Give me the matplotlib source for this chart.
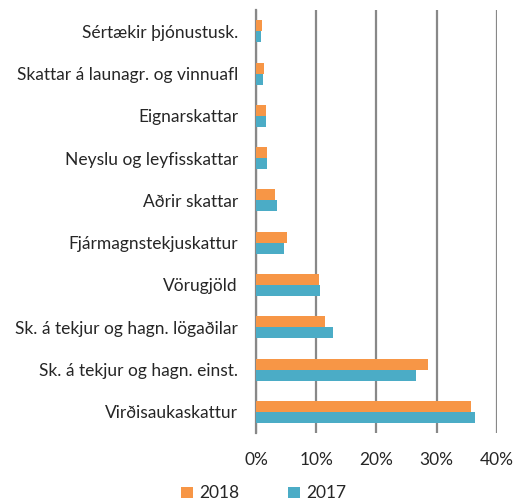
import numpy as np
import matplotlib.pyplot as plt
from matplotlib.ticker import PercentFormatter

# Gögn (lesið af myndinni), neðst -> efst
flokkar = ['Virðisaukaskattur', 'Sk. á tekjur og hagn. einst.',
           'Sk. á tekjur og hagn. lögaðilar', 'Vörugjöld',
           'Fjármagnstekjuskattur', 'Aðrir skattar', 'Neyslu og leyfisskattar',
           'Eignarskattar', 'Skattar á launagr. og vinnuafl',
           'Sértækir þjónustusk.']
gildi_2018 = [35.7, 28.5, 11.4, 10.5, 5.1, 3.2, 1.8, 1.6, 1.3, 1.0]
gildi_2017 = [36.3, 26.6, 12.7, 10.7, 4.6, 3.4, 1.8, 1.7, 1.2, 0.8]
x_ticks = [0, 10, 20, 30, 40]

plt.rcParams['font.family'] = ['Lato', 'DejaVu Sans']

fig = plt.figure(figsize=(5.28, 5.04), dpi=100)
ax = fig.add_axes([0.485, 0.141, 0.456, 0.839])

y = np.arange(len(flokkar))
h = 0.26
ax.barh(y + h / 2, gildi_2018, height=h, color='#F79646', label='2018', zorder=3)
ax.barh(y - h / 2, gildi_2017, height=h, color='#4BACC6', label='2017', zorder=3)

ax.set_xlim(0, 40)
ax.set_ylim(-0.5, len(flokkar) - 0.5)
ax.set_xticks(x_ticks)
ax.xaxis.set_major_formatter(PercentFormatter(decimals=0))
ax.set_yticks(y)
ax.set_yticklabels(flokkar)
ax.tick_params(axis='both', length=0, labelsize=12.5, colors='#262626')
ax.tick_params(axis='x', pad=14)
ax.tick_params(axis='y', pad=13)

ax.grid(axis='x', color='#888888', linewidth=1.6, zorder=0)
for s in ['top', 'right', 'bottom']:
    ax.spines[s].set_visible(False)
ax.spines['left'].set_color('#888888')
ax.spines['left'].set_linewidth(1.6)

fig.legend(loc='lower center', bbox_to_anchor=(0.5, -0.026), ncol=2, frameon=False,
           fontsize=12.5, handlelength=0.65, handleheight=0.65, columnspacing=2.8,
           handletextpad=0.4, labelcolor='#262626')

fig.savefig('out.png', dpi=100)
